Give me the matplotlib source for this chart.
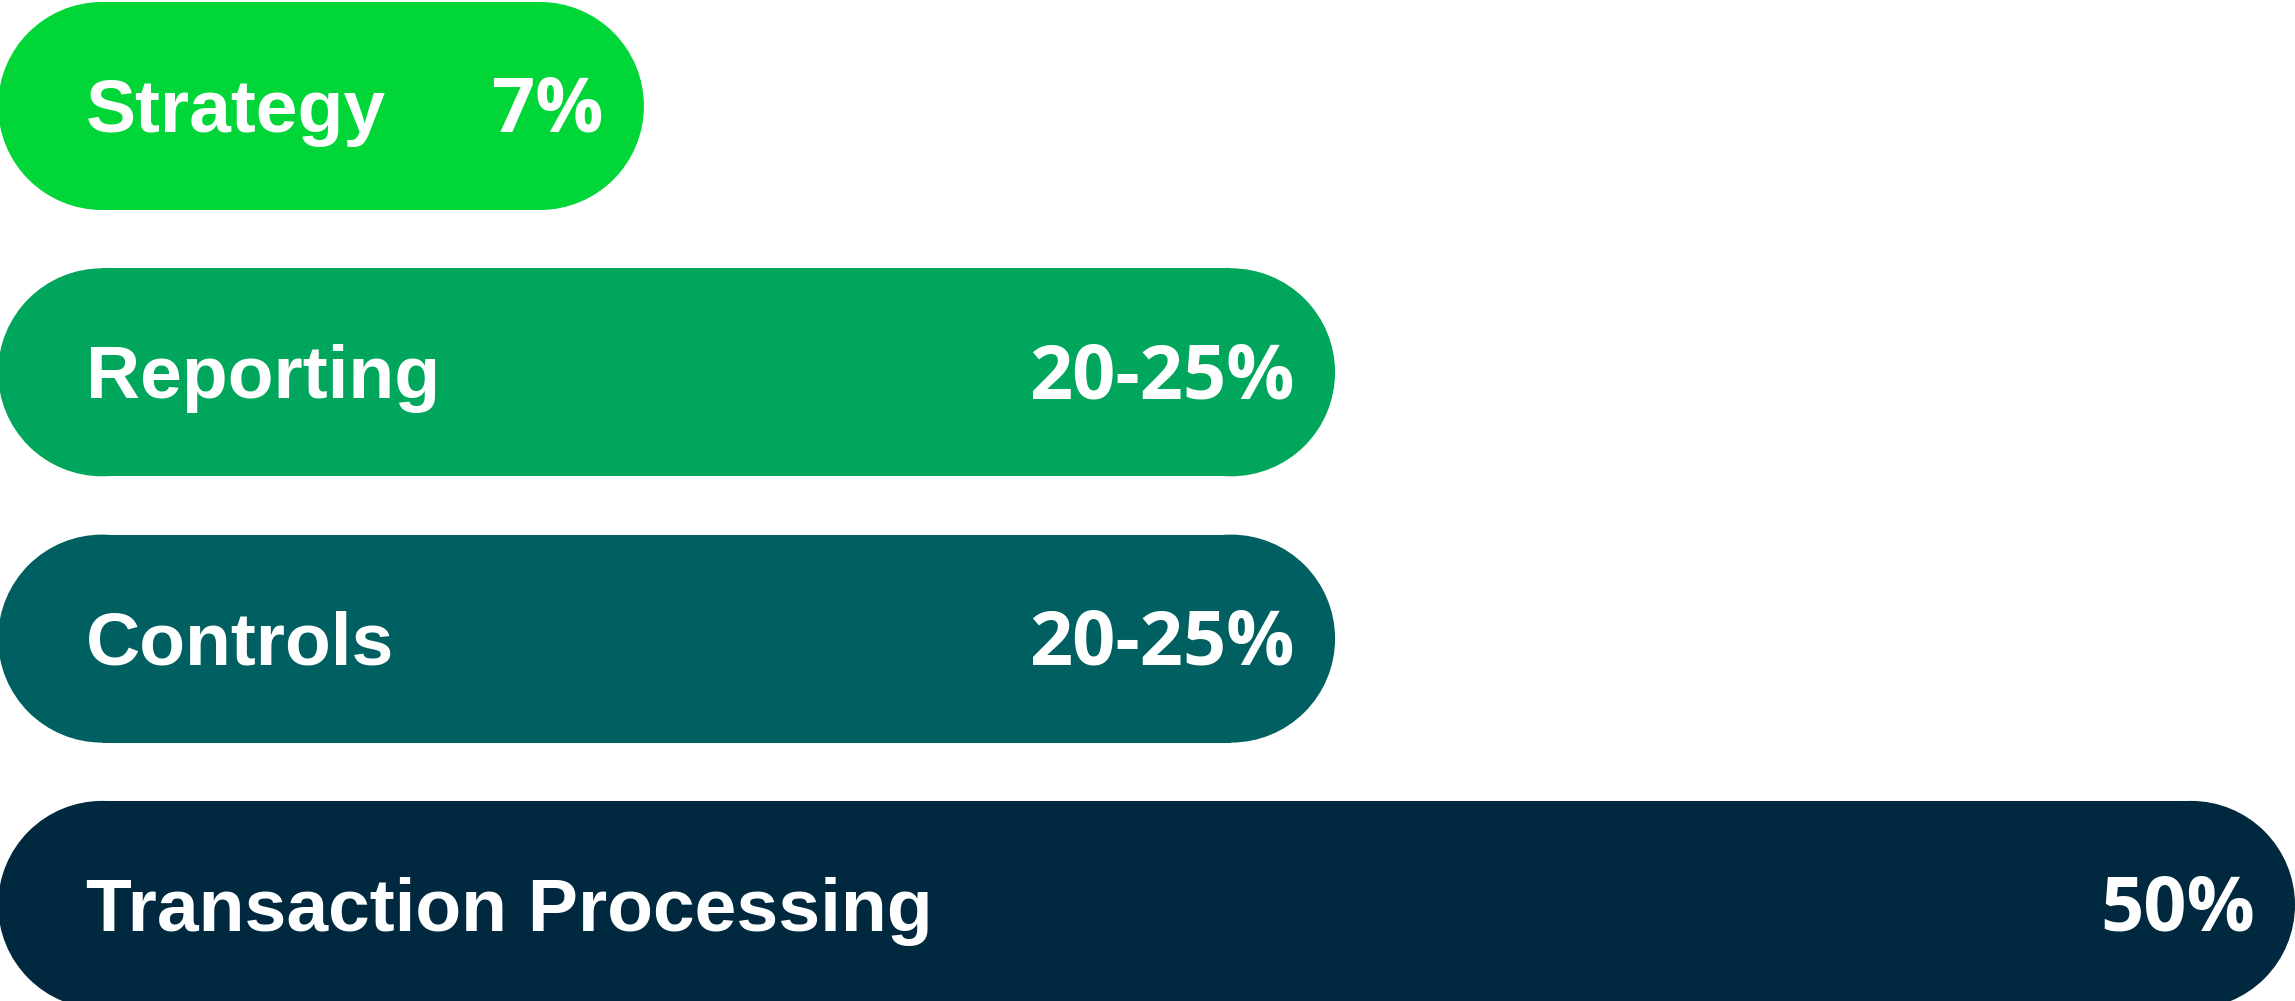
import matplotlib
matplotlib.use("Agg")
import matplotlib.pyplot as plt
from matplotlib.patches import Rectangle, Ellipse

categories = ["Strategy", "Reporting", "Controls", "Transaction Processing"]
value_low = [7, 20, 20, 50]
value_high = [7, 25, 25, 50]
value_labels = ["7%", "20-25%", "20-25%", "50%"]
colors = ["#00D638", "#00A65B", "#005F60", "#002940"]

W, H, DPI = 2295, 1001, 100
fig = plt.figure(figsize=(W / DPI, H / DPI), dpi=DPI)
ax = fig.add_axes([0, 0, 1, 1])
ax.set_axis_off()

x0, x1 = -9.77, 50.0
spacing_px = 266.3
first_center_px = 106
ax.set_xlim(x0, x1)
ylim_top = -first_center_px / spacing_px
ylim_bot = (H - first_center_px) / spacing_px
ax.set_ylim(ylim_bot, ylim_top)

px_per_x = W / (x1 - x0)
px_per_y = spacing_px
bar_h_px = 208
bar_h = bar_h_px / px_per_y
r_x = (bar_h_px / 2) / px_per_x
left = -9.82

label_pad_px = 88
value_pad_px = 40
cap_half_px = 26

for i, (cat, hi, lab, c) in enumerate(zip(categories, value_high, value_labels, colors)):
    ax.add_patch(Rectangle((left + r_x, i - bar_h / 2), hi - left - 2 * r_x, bar_h,
                           facecolor=c, edgecolor="none"))
    ax.add_patch(Ellipse((left + r_x, i), 2 * r_x, bar_h, facecolor=c, edgecolor="none"))
    ax.add_patch(Ellipse((hi - r_x, i), 2 * r_x, bar_h, facecolor=c, edgecolor="none"))
    yb = i + cap_half_px / px_per_y
    ax.text(left + label_pad_px / px_per_x, yb, cat, ha="left", va="baseline",
            color="white", fontsize=54, fontweight="bold", family="Liberation Sans")
    ax.text(hi - value_pad_px / px_per_x, yb, lab, ha="right", va="baseline",
            color="white", fontsize=54.5, fontweight="bold", family="Open Sans")

fig.savefig("out.png", dpi=DPI, facecolor="white")
